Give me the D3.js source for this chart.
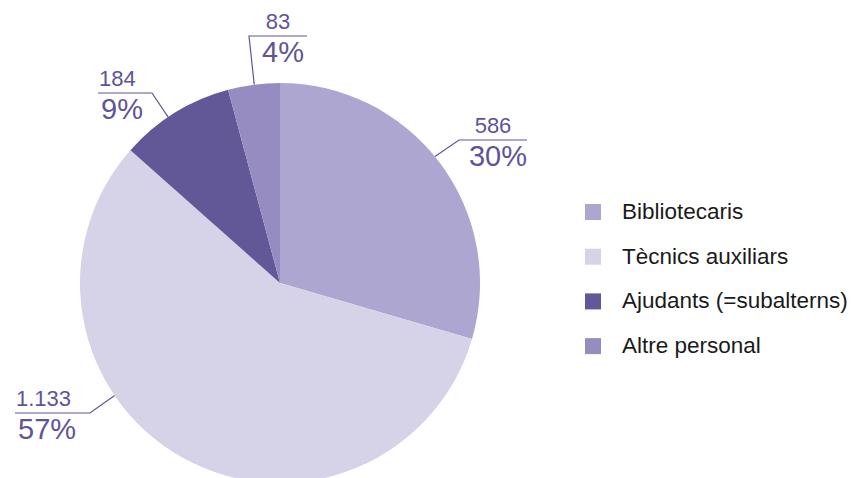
<!DOCTYPE html>
<html>
<head>
<meta charset="utf-8">
<script src="https://cdn.jsdelivr.net/npm/d3@7"></script>
<style>
  body { margin: 0; background: #fff; }
  svg { font-family: "Liberation Sans", Arial, sans-serif; }
</style>
</head>
<body>
<svg id="chart" width="852" height="478"></svg>
<script>
// data
const categories = ["Bibliotecaris", "Tècnics auxiliars", "Ajudants (=subalterns)", "Altre personal"];
const values = [586, 1133, 184, 83];
const valueLabels = ["586", "1.133", "184", "83"];
const percentLabels = ["30%", "57%", "9%", "4%"];

const colors = ["#ada6d1", "#d6d3e8", "#625897", "#968cc1"];
const labelColor = "#5f5499";

// label layout: leader angle (deg, from 12 o'clock), label anchor point, side
const labelLayout = [
  { angle: 50.8, x: 459, y: 140, w: 68, anchor: "middle" },
  { angle: 235.8, x: 90, y: 413, w: -75, anchor: "start" },
  { angle: 326, x: 152, y: 93, w: -54, anchor: "start" },
  { angle: 352.6, x: 249, y: 36, w: 58, anchor: "middle" }
];

const svg = d3.select("#chart");
const cx = 280, cy = 283, radius = 200;

const pie = d3.pie().sort(null).value((d) => d);
const arcs = pie(values);
const arc = d3.arc().innerRadius(0).outerRadius(radius);

const g = svg.append("g").attr("transform", `translate(${cx},${cy})`);

g.selectAll("path")
  .data(arcs)
  .join("path")
  .attr("d", arc)
  .attr("fill", (d, i) => colors[i]);

// labels with leader lines
const labels = svg.append("g");
arcs.forEach((d, i) => {
  const L = labelLayout[i];
  const a = (L.angle * Math.PI) / 180;
  const ex = cx + radius * Math.sin(a);
  const ey = cy - radius * Math.cos(a);
  const x2 = L.x + L.w;
  labels.append("polyline")
    .attr("points", `${ex},${ey} ${L.x},${L.y} ${x2},${L.y}`)
    .attr("fill", "none")
    .attr("stroke", labelColor)
    .attr("stroke-width", 1.2);

  const left = Math.min(L.x, x2), right = Math.max(L.x, x2);
  const tx = L.anchor === "middle" ? (left + right) / 2 : left + 1;
  labels.append("text")
    .attr("x", tx)
    .attr("y", L.y - 7)
    .attr("text-anchor", L.anchor)
    .attr("fill", labelColor)
    .attr("font-size", 22)
    .text(valueLabels[i]);
  labels.append("text")
    .attr("x", tx + (L.anchor === "middle" ? 5 : 2))
    .attr("y", L.y + 26)
    .attr("text-anchor", L.anchor)
    .attr("fill", labelColor)
    .attr("font-size", 29)
    .text(percentLabels[i]);
});

// legend
const legend = svg.append("g").attr("transform", "translate(585,204)");
const item = legend.selectAll("g")
  .data(categories)
  .join("g")
  .attr("transform", (d, i) => `translate(0,${i * 44.7})`);
item.append("rect")
  .attr("width", 16)
  .attr("height", 16)
  .attr("fill", (d, i) => colors[i]);
item.append("text")
  .attr("x", 37)
  .attr("y", 15)
  .attr("font-size", 22.5)
  .attr("fill", "#1a1a1a")
  .text((d) => d);
</script>
</body>
</html>
